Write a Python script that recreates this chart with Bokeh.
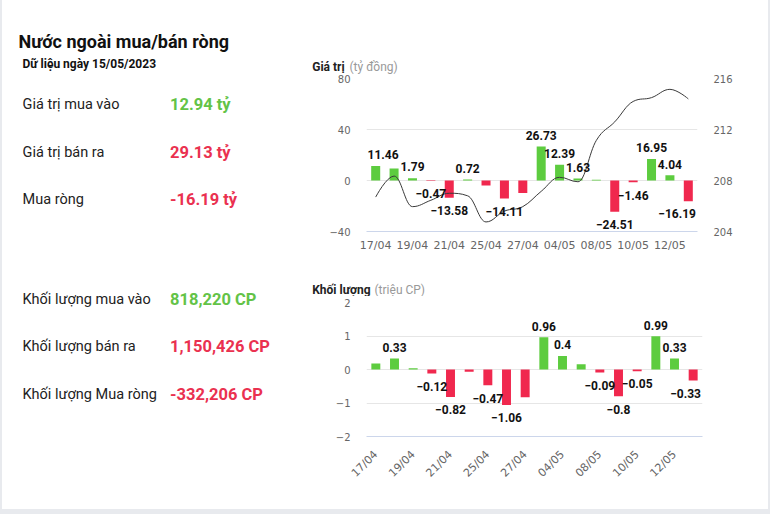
import math
from bokeh.plotting import figure
from bokeh.models import Range1d, LinearAxis, FixedTicker, ColumnDataSource, Spacer
from bokeh.layouts import row, column
from bokeh.embed import file_html
from bokeh.resources import INLINE
from bokeh.core.properties import value

# ---------------- data ----------------
dates = ["17/04", "18/04", "19/04", "20/04", "21/04", "24/04", "25/04", "26/04", "27/04",
         "28/04", "04/05", "05/05", "08/05", "09/05", "10/05", "11/05", "12/05", "15/05"]
net_value = [11.46, 9.4, 1.79, -0.47, -13.58, 0.72, -3.9, -14.11, -9.9,
             26.73, 12.39, 1.63, 0.5, -24.51, -1.46, 16.95, 4.04, -16.19]
value_label_shown = [1, 0, 1, 1, 1, 1, 0, 1, 0, 1, 1, 1, 0, 1, 1, 1, 1, 1]
price = [206.7, 208.35, 205.95, 206.45, 207.0, 206.8, 204.75, 205.6, 205.95,
         207.15, 208.25, 207.9, 211.15, 212.6, 214.2, 214.5, 215.15, 214.4]
net_volume = [0.18, 0.33, 0.04, -0.12, -0.82, -0.07, -0.47, -1.06, -0.83,
              0.96, 0.4, 0.16, -0.09, -0.8, -0.05, 0.99, 0.33, -0.33]
volume_label_shown = [0, 1, 0, 1, 1, 0, 1, 1, 0, 1, 1, 0, 1, 1, 1, 1, 1, 1]

value_ticks = [-40, 0, 40, 80]
price_ticks = [204, 208, 212, 216]
volume_ticks = [-2, -1, 0, 1, 2]
date_tick_step = 2

page_title = "Nước ngoài mua/bán ròng"
page_subtitle = "Dữ liệu ngày 15/05/2023"
stat_names = ["Giá trị mua vào", "Giá trị bán ra", "Mua ròng",
              "Khối lượng mua vào", "Khối lượng bán ra", "Khối lượng Mua ròng"]
stat_values = ["12.94 tỷ", "29.13 tỷ", "-16.19 tỷ",
               "818,220 CP", "1,150,426 CP", "-332,206 CP"]
stat_is_buy = [True, False, False, True, False, False]

value_title = ("Giá trị", "(tỷ đồng)")
volume_title = ("Khối lượng", "(triệu CP)")

# ---------------- styles ----------------
GREEN = "#5dcc3f"
RED = "#f0284e"
TXT_GREEN = "#63c347"
TXT_RED = "#ea3150"
GRID = "#e6e6e6"
AXIS_TXT = "#666666"
EDGE = "#e8eaee"
MINUS = "\u2212"


def fmt(v):
    return f"{v:g}".replace("-", MINUS)


def spline_segments(xs, ys, smoothing=1.5):
    n = len(xs)
    lc = [None] * n
    rc = [None] * n
    d = smoothing + 1
    for i in range(1, n - 1):
        px, py = xs[i], ys[i]
        lx, ly = xs[i - 1], ys[i - 1]
        nx, ny = xs[i + 1], ys[i + 1]
        lcx = (smoothing * px + lx) / d
        lcy = (smoothing * py + ly) / d
        rcx = (smoothing * px + nx) / d
        rcy = (smoothing * py + ny) / d
        corr = (rcy - lcy) * (rcx - px) / (rcx - lcx) + py - rcy
        lcy += corr
        rcy += corr
        if lcy > ly and lcy > py:
            lcy = max(ly, py); rcy = 2 * py - lcy
        elif lcy < ly and lcy < py:
            lcy = min(ly, py); rcy = 2 * py - lcy
        if rcy > ny and rcy > py:
            rcy = max(ny, py); lcy = 2 * py - rcy
        elif rcy < ny and rcy < py:
            rcy = min(ny, py); lcy = 2 * py - rcy
        lc[i] = (lcx, lcy)
        rc[i] = (rcx, rcy)
    seg = dict(x0=[], y0=[], x1=[], y1=[], cx0=[], cy0=[], cx1=[], cy1=[])
    for i in range(1, n):
        c0 = rc[i - 1] if rc[i - 1] else (xs[i - 1], ys[i - 1])
        c1 = lc[i] if lc[i] else (xs[i], ys[i])
        seg["x0"].append(xs[i - 1]); seg["y0"].append(ys[i - 1])
        seg["x1"].append(xs[i]); seg["y1"].append(ys[i])
        seg["cx0"].append(c0[0]); seg["cy0"].append(c0[1])
        seg["cx1"].append(c1[0]); seg["cy1"].append(c1[1])
    return seg


def label_source(vals, shown):
    n = len(vals)
    out = dict(x=[], y=[], text=[], align=[], xo=[], yo=[])
    for i, (v, s) in enumerate(zip(vals, shown)):
        if not s:
            continue
        if i == 0:
            x, a, dx = i - 0.5, "left", 1
        elif i == n - 1:
            x, a, dx = i + 0.5, "right", -1.5
        else:
            x, a, dx = i, "center", 0
        out["x"].append(x)
        out["y"].append(v)
        out["text"].append(fmt(v))
        out["align"].append(a)
        out["xo"].append(dx)
        out["yo"].append(-11.3 if v >= 0 else 12.8)
    return ColumnDataSource(out)


def bar_source(vals):
    return ColumnDataSource(dict(x=list(range(len(vals))), top=vals,
                                 color=[GREEN if v >= 0 else RED for v in vals]))


def style_chart(p, yticks, xlabels_rot=False):
    idx = list(range(0, len(dates), date_tick_step))
    p.xaxis.ticker = FixedTicker(ticks=idx)
    p.xaxis.major_label_overrides = {i: dates[i] for i in idx}
    p.xaxis.major_tick_line_color = None
    p.xaxis.major_tick_out = 0
    p.xaxis.major_tick_in = 0
    p.xaxis.minor_tick_line_color = None
    p.xaxis.axis_line_color = "#ccd6eb"
    p.xaxis.major_label_text_font = "DejaVu Sans"
    p.xaxis.major_label_text_font_size = "11px"
    p.xaxis.major_label_text_color = AXIS_TXT
    p.xaxis.major_label_standoff = 7
    if xlabels_rot:
        p.xaxis.major_label_orientation = math.pi / 4
        p.xaxis.major_label_standoff = 16
    p.yaxis.ticker = FixedTicker(ticks=yticks)
    p.yaxis.major_label_overrides = {t: fmt(t) for t in yticks}
    p.ygrid.ticker = FixedTicker(ticks=yticks)
    p.ygrid.grid_line_color = GRID
    p.xgrid.grid_line_color = None
    for ax in p.yaxis:
        ax.axis_line_color = None
        ax.major_tick_line_color = None
        ax.major_tick_out = 0
        ax.major_tick_in = 0
        ax.minor_tick_line_color = None
        ax.major_label_text_font = "DejaVu Sans"
        ax.major_label_text_font_size = "10px"
        ax.major_label_text_color = AXIS_TXT
        ax.major_label_standoff = 16
    p.outline_line_color = None


def title_fig(parts, height, baseline, gap):
    f = figure(width=460, height=height, x_range=Range1d(308, 768), y_range=Range1d(height, 0),
               x_axis_type=None, y_axis_type=None, toolbar_location=None,
               output_backend="svg", min_border=0, outline_line_color=None)
    f.text(x=[311.7], y=[baseline], text=[parts[0]], text_font=value("Roboto"),
           text_font_style="bold", text_font_size="12px", text_color="#222222",
           text_baseline="alphabetic")
    f.text(x=[311.7 + gap], y=[baseline], text=[parts[1]], text_font=value("Roboto"),
           text_font_size="12px", text_color="#999999", text_baseline="alphabetic")
    return f


n = len(dates)

# ---------------- left text panel ----------------
left = figure(width=306, height=509, x_range=Range1d(2, 308), y_range=Range1d(509, 0),
              x_axis_type=None, y_axis_type=None, toolbar_location=None,
              output_backend="svg", min_border=0, outline_line_color=None)
left.text(x=[18], y=[40.7], text=[page_title], text_font=value("Roboto"),
          text_font_style="bold", text_font_size="18px", text_color="#111111",
          text_baseline="alphabetic")
left.text(x=[22], y=[63.7], text=[page_subtitle], text_font=value("Roboto"),
          text_font_style="bold", text_font_size="12px", text_color="#111111",
          text_baseline="alphabetic")
row_y = [104.3, 151.7, 199.0, 298.5, 346.0, 394.0]
left.text(x=[22] * len(stat_names), y=row_y, text=stat_names, text_font=value("Roboto"),
          text_font_size="14.5px", text_color="#222222", text_baseline="alphabetic")
left.text(x=[169.5] * len(stat_values), y=row_y, text=stat_values, text_font=value("Roboto"),
          text_font_style="bold", text_font_size="16.5px",
          text_color=[TXT_GREEN if b else TXT_RED for b in stat_is_buy],
          text_baseline="alphabetic")

# ---------------- top chart: net value + price ----------------
ttl_top = title_fig(value_title, 74, 66, 37.3)
top = figure(width=460, height=180, x_range=Range1d(-0.5, n - 0.5),
             y_range=Range1d(value_ticks[0], value_ticks[-1]),
             toolbar_location=None, output_backend="svg",
             min_border_left=58, min_border_right=71, min_border_top=4, min_border_bottom=21)
top.extra_y_ranges = {"price": Range1d(price_ticks[0], price_ticks[-1])}
rax = LinearAxis(y_range_name="price")
top.add_layout(rax, "right")
style_chart(top, value_ticks)
rax.ticker = FixedTicker(ticks=price_ticks)
rax.major_label_overrides = {}
top.vbar(x="x", top="top", bottom=0, width=0.49, color="color", line_color=None,
         source=bar_source(net_value))
seg = spline_segments(list(range(n)), price)
top.bezier(source=ColumnDataSource(seg), x0="x0", y0="y0", x1="x1", y1="y1",
           cx0="cx0", cy0="cy0", cx1="cx1", cy1="cy1",
           line_color="#3a3a3a", line_width=1, y_range_name="price")
top.text(x="x", y="y", text="text", text_align="align", x_offset="xo", y_offset="yo",
         text_baseline="middle", text_font=value("Roboto"), text_font_style="bold",
         text_font_size="12px", text_color="#111111",
         source=label_source(net_value, value_label_shown))

# ---------------- bottom chart: net volume ----------------
ttl_bot = title_fig(volume_title, 42, 35, 62.3)
bot = figure(width=460, height=213, x_range=Range1d(-0.5, n - 0.5),
             y_range=Range1d(volume_ticks[0], volume_ticks[-1]),
             toolbar_location=None, output_backend="svg",
             min_border_left=58, min_border_right=66, min_border_top=6, min_border_bottom=73)
style_chart(bot, volume_ticks, xlabels_rot=True)
bot.vbar(x="x", top="top", bottom=0, width=0.48, color="color", line_color=None,
         source=bar_source(net_volume))
bot.text(x="x", y="y", text="text", text_align="align", x_offset="xo", y_offset="yo",
         text_baseline="middle", text_font=value("Roboto"), text_font_style="bold",
         text_font_size="12px", text_color="#111111",
         source=label_source(net_volume, volume_label_shown))

edge_left = Spacer(width=2, height=509, styles={"background-color": EDGE})
edge_right = Spacer(width=2, height=509, styles={"background-color": EDGE})
edge_bottom = Spacer(width=770, height=5, styles={"background-color": EDGE})

right_col = column(row(ttl_top), row(top), row(ttl_bot), row(bot))
layout = column(row(edge_left, left, right_col, edge_right), edge_bottom)
open("out.html", "w").write(file_html(layout, INLINE))
